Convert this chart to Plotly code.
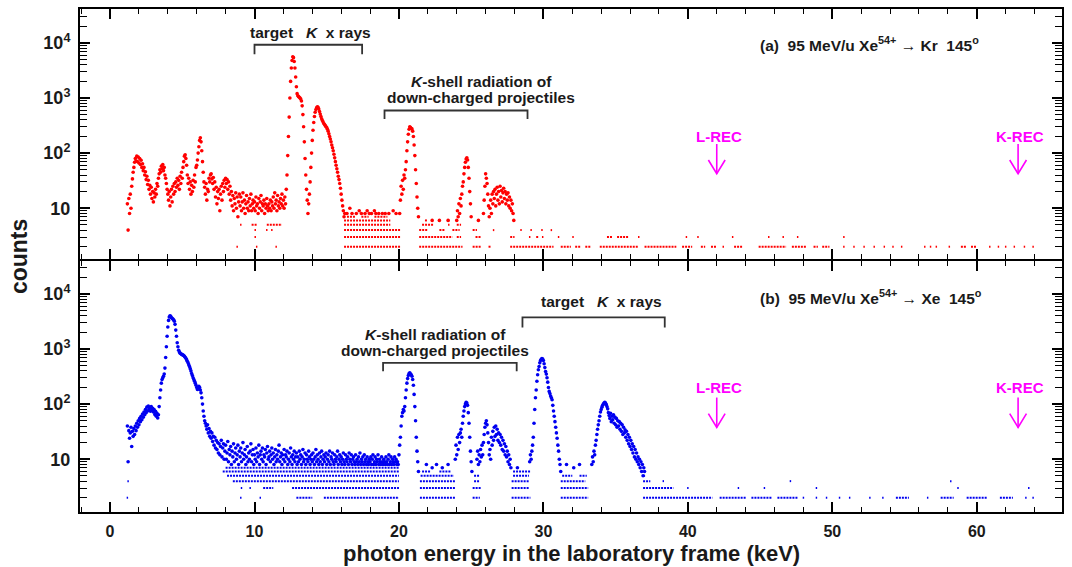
import plotly.graph_objects as go

# ---------------- data ----------------
E0 = 1.0      # keV, energy of first bin
dE = 0.05     # keV, bin width

# (a) Xe54+ -> Kr : counts per 0.05 keV bin, one line per keV (1.00 .. 27.95)
kr_counts = [
    0, 0, 0, 0, 12, 4, 15, 8, 18, 10, 25, 34, 45, 55, 68, 80, 72, 88, 70, 85,
    66, 80, 62, 74, 55, 64, 48, 55, 40, 46, 33, 38, 27, 32, 22, 26, 18, 24, 15, 20,
    13, 19, 16, 22, 18, 28, 25, 35, 42, 50, 45, 58, 52, 62, 48, 55, 40, 35, 28, 22,
    18, 14, 20, 11, 16, 22, 13, 25, 18, 28, 20, 30, 24, 35, 26, 32, 22, 38, 28, 45,
    35, 55, 70, 88, 93, 80, 60, 40, 28, 35, 22, 30, 18, 26, 20, 32, 24, 40, 30, 55,
    60, 75, 100, 130, 170, 190, 160, 110, 70, 45, 30, 24, 18, 28, 14, 22, 20, 35, 30, 40,
    42, 34, 28, 36, 22, 30, 16, 24, 12, 20, 15, 22, 9, 18, 25, 14, 28, 20, 32, 24,
    35, 28, 33, 22, 30, 18, 25, 14, 20, 11, 17, 9, 15, 12, 19, 10, 16, 7, 13, 18,
    11, 16, 9, 13, 19, 10, 14, 8, 12, 17, 10, 13, 9, 15, 11, 18, 9, 12, 14, 10,
    13, 9, 16, 11, 12, 8, 15, 10, 13, 17, 9, 12, 11, 14, 8, 12, 10, 15, 11, 9,
    12, 10, 14, 9, 13, 11, 16, 10, 19, 12, 14, 9, 17, 11, 13, 10, 15, 12, 18, 11,
    14, 10, 16, 12, 22, 40, 90, 200, 450, 1000, 2000, 3500, 4800, 5600, 5400, 4600, 3500, 2400, 1600, 1200,
    1100, 1060, 1030, 1000, 960, 880, 720, 500, 300, 160, 80, 40, 22, 14, 8, 12, 18, 30, 55, 100,
    170, 260, 360, 460, 550, 620, 665, 690, 675, 630, 570, 510, 460, 420, 390, 365, 345, 330, 315, 300,
    290, 270, 250, 225, 200, 180, 160, 140, 125, 110, 95, 82, 70, 60, 52, 45, 38, 33, 28, 23,
    18, 14, 11, 9, 7, 8, 0, 0, 8, 0, 0, 0, 10, 0, 0, 8, 0, 0, 0, 0,
    0, 8, 0, 0, 0, 9, 0, 0, 8, 0, 0, 0, 0, 8, 0, 0, 9, 0, 0, 8,
    0, 0, 8, 0, 0, 0, 9, 0, 8, 0, 0, 0, 8, 0, 0, 0, 0, 8, 0, 0,
    0, 8, 0, 0, 0, 0, 8, 0, 0, 0, 0, 0, 9, 0, 0, 0, 8, 0, 0, 0,
    0, 8, 14, 25, 18, 32, 22, 40, 35, 50, 70, 110, 160, 220, 270, 300, 290, 280, 275, 250,
    200, 140, 90, 50, 28, 16, 10, 7, 0, 0, 0, 0, 0, 0, 0, 0, 0, 0, 0, 0,
    0, 0, 0, 0, 0, 0, 6, 0, 0, 0, 0, 0, 0, 0, 0, 0, 6, 0, 0, 0,
    0, 0, 0, 0, 0, 0, 0, 0, 6, 0, 0, 0, 0, 0, 0, 0, 0, 0, 0, 0,
    6, 9, 7, 12, 8, 15, 11, 18, 25, 30, 42, 55, 68, 78, 82, 75, 55, 35, 20, 12,
    7, 0, 0, 0, 0, 0, 0, 0, 0, 0, 6, 0, 0, 0, 0, 0, 0, 8, 14, 25,
    42, 35, 28, 18, 11, 7, 10, 14, 8, 18, 12, 20, 15, 22, 11, 18, 24, 14, 20, 12,
    25, 16, 21, 13, 19, 23, 15, 20, 12, 18, 14, 19, 11, 16, 10, 14, 9, 12, 8, 6,
]

# low-count channel rows of (a): (start keV, end keV) where the count level is filled
kr_row2 = [(8.75, 8.85), (10.1, 10.2), (11.45, 11.55), (16.2, 20.1), (21.4, 24.4), (25.1, 25.7),
           (26.2, 26.4), (27.7, 30.7), (31.2, 31.9), (32.2, 32.6), (32.9, 33.3), (33.9, 36.6),
           (37.0, 39.2), (39.6, 40.3), (40.9, 41.2), (41.6, 42.0), (42.4, 42.5), (43.2, 43.8),
           (44.9, 46.8), (47.2, 48.2), (48.7, 49.0), (49.3, 49.8), (50.75, 50.85), (51.45, 51.55),
           (52.15, 52.25), (52.85, 52.95), (53.55, 53.65), (54.15, 54.25), (54.75, 54.85),
           (56.35, 56.45), (56.75, 56.85), (57.15, 57.25), (58.05, 58.15), (58.9, 59.3),
           (59.6, 60.0), (60.85, 60.95), (61.45, 61.55), (61.95, 62.05), (62.55, 62.65),
           (63.25, 63.35), (63.85, 63.95)]
kr_row3 = [(10.0, 10.1), (16.2, 20.1), (21.4, 23.7), (24.0, 24.3), (25.3, 25.7), (27.7, 28.0),
           (29.0, 29.1), (29.5, 29.7), (29.9, 30.0), (31.0, 31.1), (32.0, 32.1), (34.4, 34.8),
           (35.1, 35.9), (36.55, 36.65), (39.85, 39.95), (40.65, 40.75), (43.05, 43.15),
           (45.55, 45.65), (46.55, 46.65), (47.55, 47.65), (50.75, 50.85)]
kr_row4 = [(10.0, 10.1), (10.8, 10.9), (11.15, 11.25), (16.2, 20.1), (21.4, 22.0), (22.8, 23.2),
           (23.7, 24.2), (25.1, 25.4), (26.5, 26.6), (28.4, 28.5), (29.1, 29.2), (29.85, 29.95),
           (30.5, 30.6)]
kr_row5 = [(9.0, 9.1), (9.8, 10.2), (10.85, 11.9), (16.2, 19.4), (21.6, 22.4), (23.4, 23.5), (24.0, 24.3)]
kr_row6 = [(16.2, 19.4), (21.8, 22.0), (22.7, 22.8), (23.4, 23.5)]
kr_row7 = [(16.4, 17.0), (17.4, 17.9), (18.3, 19.2)]

# (b) Xe54+ -> Xe : counts per 0.05 keV bin, one line per keV (1.00 .. 37.00)
xe_counts = [
    0, 0, 0, 0, 40, 9, 33, 24, 30, 38, 17, 32, 26, 36, 28, 40, 33, 45, 38, 50,
    42, 55, 48, 60, 52, 66, 58, 72, 64, 80, 70, 88, 75, 92, 80, 86, 74, 90, 78, 84,
    72, 80, 65, 74, 60, 68, 56, 64, 90, 130, 180, 240, 280, 300, 320, 350, 450, 700, 1100, 1700,
    2500, 3300, 3800, 4000, 3900, 3700, 3600, 3500, 3400, 3200, 2800, 2200, 1700, 1300, 1100, 950, 880, 840, 820, 800,
    790, 780, 760, 740, 710, 680, 640, 600, 560, 520, 480, 440, 400, 360, 330, 300, 280, 260, 240, 220,
    200, 185, 190, 210, 200, 180, 160, 130, 100, 75, 60, 50, 45, 40, 35, 42, 30, 36, 26, 32,
    24, 30, 21, 26, 18, 25, 16, 22, 15, 20, 13, 19, 12, 17, 22, 11, 16, 19, 10, 14,
    18, 10, 13, 21, 9, 15, 12, 17, 8, 14, 11, 19, 9, 13, 16, 10, 12, 18, 8, 14,
    11, 16, 9, 13, 20, 10, 12, 15, 8, 11, 17, 9, 13, 10, 14, 19, 9, 12, 15, 8,
    12, 10, 16, 9, 13, 11, 18, 8, 12, 14, 10, 16, 9, 12, 11, 15, 8, 13, 17, 10,
    11, 14, 9, 12, 16, 10, 13, 8, 11, 15, 9, 12, 10, 14, 18, 9, 11, 13, 8, 12,
    10, 15, 9, 12, 11, 14, 8, 10, 13, 9, 16, 11, 8, 12, 10, 14, 9, 11, 13, 8,
    11, 9, 14, 10, 12, 8, 11, 15, 9, 10, 13, 8, 12, 10, 9, 14, 11, 8, 10, 12,
    9, 13, 10, 8, 11, 15, 9, 12, 10, 8, 13, 9, 11, 14, 8, 10, 12, 9, 11, 13,
    8, 10, 12, 9, 14, 8, 11, 10, 13, 9, 8, 12, 10, 9, 11, 14, 8, 10, 12, 9,
    11, 8, 10, 13, 9, 8, 12, 10, 9, 11, 8, 13, 10, 9, 12, 8, 10, 11, 9, 8,
    12, 9, 10, 8, 11, 9, 13, 8, 10, 9, 11, 8, 12, 9, 10, 8, 11, 9, 8, 10,
    9, 11, 8, 10, 12, 8, 9, 11, 8, 10, 9, 12, 8, 10, 9, 8, 11, 9, 8, 10,
    9, 8, 11, 9, 8, 10, 12, 8, 9, 11, 8, 10, 9, 8, 11, 9, 10, 8, 9, 8,
    12, 18, 25, 40, 60, 70, 80, 75, 90, 130, 180, 240, 290, 330, 360, 370, 350, 340, 320, 280,
    220, 150, 90, 50, 25, 14, 9, 6, 0, 0, 0, 0, 0, 0, 0, 0, 0, 0, 8, 0,
    0, 0, 0, 0, 0, 0, 7, 0, 0, 0, 0, 0, 8, 0, 0, 0, 0, 0, 0, 0,
    7, 0, 0, 0, 0, 0, 0, 0, 8, 0, 0, 0, 0, 0, 0, 0, 0, 0, 10, 18,
    12, 25, 15, 28, 20, 30, 35, 25, 45, 60, 75, 90, 100, 108, 105, 95, 70, 45, 25, 14,
    9, 6, 0, 0, 0, 0, 0, 0, 10, 14, 8, 12, 9, 15, 11, 18, 12, 20, 28, 38,
    45, 50, 42, 30, 20, 12, 15, 10, 25, 18, 32, 22, 38, 26, 40, 28, 35, 22, 30, 20,
    28, 18, 25, 15, 22, 14, 19, 12, 17, 11, 14, 9, 12, 8, 10, 7, 0, 0, 0, 0,
    0, 0, 0, 0, 7, 0, 0, 0, 0, 0, 0, 0, 0, 0, 0, 0, 0, 0, 0, 0,
    0, 9, 12, 10, 14, 18, 25, 45, 80, 130, 180, 260, 340, 420, 480, 560, 620, 650, 670, 660,
    620, 540, 460, 390, 350, 300, 250, 200, 170, 155, 140, 130, 120, 95, 75, 60, 48, 38, 30, 24,
    18, 14, 10, 8, 6, 0, 0, 0, 0, 0, 0, 0, 8, 0, 0, 0, 0, 0, 0, 0,
    0, 0, 7, 0, 0, 0, 0, 0, 0, 0, 8, 0, 0, 0, 0, 0, 0, 0, 0, 0,
    0, 0, 0, 0, 0, 0, 0, 8, 11, 9, 14, 12, 18, 22, 28, 35, 42, 50, 60, 72,
    80, 88, 95, 100, 105, 108, 104, 98, 90, 82, 70, 62, 55, 68, 48, 60, 52, 64, 45, 58,
    42, 55, 38, 50, 40, 48, 35, 45, 32, 42, 28, 38, 30, 34, 25, 32, 22, 28, 19, 25,
    17, 22, 15, 19, 13, 17, 11, 15, 10, 13, 9, 11, 8, 10, 7, 9, 6, 8, 5, 7,
    6,
]

xe_row2 = [(1.15, 1.25), (9.0, 9.1), (10.35, 10.45), (12.9, 14.0), (14.8, 20.0), (21.45, 23.9),
           (25.1, 25.6), (27.8, 29.1), (31.2, 33.1), (36.9, 41.7), (42.2, 44.0), (44.4, 45.8),
           (46.2, 47.6), (47.95, 48.05), (48.85, 48.95), (49.55, 49.65), (50.45, 50.55),
           (51.15, 51.25), (52.55, 52.65), (53.45, 53.55), (54.4, 55.3), (56.55, 56.65),
           (57.5, 58.4), (59.3, 60.7), (61.6, 62.5), (63.35, 63.45), (63.85, 63.95)]
xe_row3 = [(9.05, 9.15), (9.65, 9.75), (10.6, 11.3), (12.6, 20.0), (21.45, 23.9), (25.1, 25.7),
           (27.8, 29.0), (31.2, 33.1), (36.9, 39.0), (39.95, 40.05), (43.45, 43.55),
           (45.25, 45.35), (48.85, 48.95), (58.65, 58.75), (63.55, 63.65)]
xe_row4 = [(1.2, 1.3), (8.5, 20.0), (21.45, 23.9), (25.2, 25.6), (27.8, 29.0), (31.2, 32.9),
           (36.9, 37.4), (38.25, 38.35), (47.05, 47.15), (58.15, 58.25)]
xe_row5 = [(8.1, 20.0), (21.5, 23.8), (25.2, 25.6), (27.9, 29.0), (31.3, 32.0), (32.5, 33.0), (36.9, 37.1)]
xe_row6 = [(7.8, 20.0), (21.6, 22.2), (22.8, 23.6), (27.9, 29.1)]
xe_row7 = [(8.0, 20.0)]

rec_lines = {"L-REC": 42.0, "K-REC": 62.86}   # keV

y_tickvals = [10, 100, 1000, 10000]
y_ticktext = ["10", "10<sup>2</sup>", "10<sup>3</sup>", "10<sup>4</sup>"]

# ---------------- figure ----------------
RED = "#ff0000"
BLUE = "#0000f0"
MAG = "#ff00ff"
INK = "#1a1a1a"
FONT = "Liberation Sans, Arial, sans-serif"


def spectrum_xy(counts):
    xs, ys = [], []
    for i, c in enumerate(counts):
        if c > 0:
            xs.append(round(E0 + i * dE, 3))
            ys.append(c)
    return xs, ys


def rows_xy(rows):
    xs, ys = [], []
    for level, segs in rows:
        for a, b in segs:
            xs += [a, b, None]
            ys += [level, level, None]
    return xs, ys


fig = go.Figure()

for counts, rows, color, xa, ya in [
    (kr_counts, [(2, kr_row2), (3, kr_row3), (4, kr_row4), (5, kr_row5), (6, kr_row6), (7, kr_row7)], RED, "x", "y"),
    (xe_counts, [(2, xe_row2), (3, xe_row3), (4, xe_row4), (5, xe_row5), (6, xe_row6), (7, xe_row7)], BLUE, "x2", "y2"),
]:
    rx, ry = rows_xy(rows)
    fig.add_trace(go.Scatter(x=rx, y=ry, mode="lines", xaxis=xa, yaxis=ya,
                             line=dict(color=color, width=2, dash="2px,1px"),
                             hoverinfo="skip", showlegend=False))
    sx, sy = spectrum_xy(counts)
    fig.add_trace(go.Scatter(x=sx, y=sy, mode="markers", xaxis=xa, yaxis=ya,
                             marker=dict(color=color, size=3.6, line=dict(width=0)),
                             showlegend=False))

minor_y = [m * 10 ** k for k in range(0, 5) for m in range(2, 10)]

xcommon = dict(range=[-2.08, 65.9], tickmode="linear", tick0=0, dtick=10,
               ticks="inside", ticklen=10, tickwidth=1.6, tickcolor="black",
               showline=True, linewidth=2, linecolor="black", mirror="ticks",
               showgrid=False, zeroline=False,
               minor=dict(ticks="inside", ticklen=5, tickwidth=1.4, tickcolor="black",
                          tickmode="linear", tick0=0, dtick=2, showgrid=False))
ycommon = dict(type="log", tickmode="array", tickvals=y_tickvals, ticktext=y_ticktext,
               ticks="inside", ticklen=10, tickwidth=1.6, tickcolor="black",
               showline=True, linewidth=2, linecolor="black", mirror="ticks",
               showgrid=False, zeroline=False, ticklabelstandoff=4,
               tickfont=dict(family=FONT, size=18, color=INK, weight="bold"),
               minor=dict(ticks="inside", ticklen=7, tickwidth=1.2, tickcolor="black",
                          tickmode="array", tickvals=minor_y, showgrid=False))

PLOT_H = 505.0
split = 0.501
top_lo = split + 1 / PLOT_H
bot_hi = split - 1 / PLOT_H
fig.update_layout(
    width=1072, height=567,
    margin=dict(l=80, r=10, t=7, b=55),
    paper_bgcolor="white", plot_bgcolor="white",
    showlegend=False,
    font=dict(family=FONT, color=INK),
    xaxis=dict(xcommon, anchor="y", showticklabels=False),
    yaxis=dict(ycommon, domain=[top_lo, 1], range=[0.078, 4.615], anchor="x"),
    xaxis2=dict(xcommon, anchor="y2", showticklabels=True, ticklabelstandoff=4,
                tickfont=dict(family=FONT, size=16, color=INK, weight="bold")),
    yaxis2=dict(ycommon, domain=[0, bot_hi], range=[0.042, 4.597], anchor="x2"),
)

ann = []
bold = dict(family=FONT, color=INK, weight="bold")
mid = dict(xanchor="center", yanchor="middle", showarrow=False)

# axis titles
ann.append(dict(mid, text="counts", xref="paper", yref="paper", x=-0.062, y=0.507,
                textangle=-90, font=dict(bold, size=23)))
ann.append(dict(mid, text="photon energy in the laboratory frame (keV)", xref="paper", yref="paper",
                x=0.5, y=-0.083, font=dict(bold, size=22)))

# panel labels
ann.append(dict(mid, text="(a)\u00a0 95 MeV/u Xe<sup>54+</sup> \u2192 Kr\u00a0 145<sup>o</sup>",
                xref="x", yref="y domain", x=44.85, y=0.862, xanchor="left",
                font=dict(bold, size=15.5)))
ann.append(dict(mid, text="(b)\u00a0 95 MeV/u Xe<sup>54+</sup> \u2192 Xe\u00a0 145<sup>o</sup>",
                xref="x2", yref="y2 domain", x=44.85, y=0.858, xanchor="left",
                font=dict(bold, size=15.5)))

# bracket labels
tk = "target\u00a0\u00a0 <i>K</i>\u00a0 x rays"
ann.append(dict(mid, text=tk, xref="x", yref="y domain", x=13.9, y=0.905,
                font=dict(bold, size=15.5)))
ann.append(dict(mid, text=tk, xref="x2", yref="y2 domain", x=34.0, y=0.838,
                font=dict(bold, size=15.5)))
for xr, yr, xc, y1, y2 in [("x", "y domain", 25.7, 0.710, 0.647),
                           ("x2", "y2 domain", 22.5, 0.706, 0.643)]:
    ann.append(dict(mid, text="<i>K</i>-shell radiation of", xref=xr, yref=yr, x=xc, y=y1,
                    font=dict(bold, size=15.5)))
    ann.append(dict(mid, text="down-charged projectiles", xref=xr, yref=yr, x=xc, y=y2,
                    font=dict(bold, size=15.5)))

# REC labels
for xr, yr, ty in [("x", "y domain", 0.492), ("x2", "y2 domain", 0.495)]:
    for name, e in rec_lines.items():
        ann.append(dict(mid, text=name, xref=xr, yref=yr, x=e + 0.15, y=ty,
                        font=dict(family=FONT, color=MAG, size=15, weight="bold")))

fig.update_layout(annotations=ann)

shapes = []
# brackets
for xr, yr, a, b, top, end in [("x", "y domain", 10.0, 17.45, 0.857, 0.819),
                               ("x", "y domain", 19.0, 28.9, 0.594, 0.560),
                               ("x2", "y2 domain", 18.9, 28.15, 0.594, 0.561),
                               ("x2", "y2 domain", 28.55, 38.4, 0.775, 0.735)]:
    shapes.append(dict(type="path", xref=xr, yref=yr,
                       path=f"M {a},{end} L {a},{top} L {b},{top} L {b},{end}",
                       line=dict(color="#333333", width=1.8)))
# REC arrows
for xr, yr, y_top, y_tip in [("x", "y domain", 0.460, 0.341), ("x2", "y2 domain", 0.456, 0.337)]:
    for name, e in rec_lines.items():
        shapes.append(dict(type="line", xref=xr, yref=yr, x0=e, x1=e, y0=y_top, y1=y_tip,
                           line=dict(color=MAG, width=1.6)))
        shapes.append(dict(type="path", xref=xr, yref=yr,
                           path=f"M {e-0.58},{y_tip+0.055} L {e},{y_tip} L {e+0.58},{y_tip+0.055}",
                           line=dict(color=MAG, width=1.6)))
fig.update_layout(shapes=shapes)

fig.write_html("out.html")
